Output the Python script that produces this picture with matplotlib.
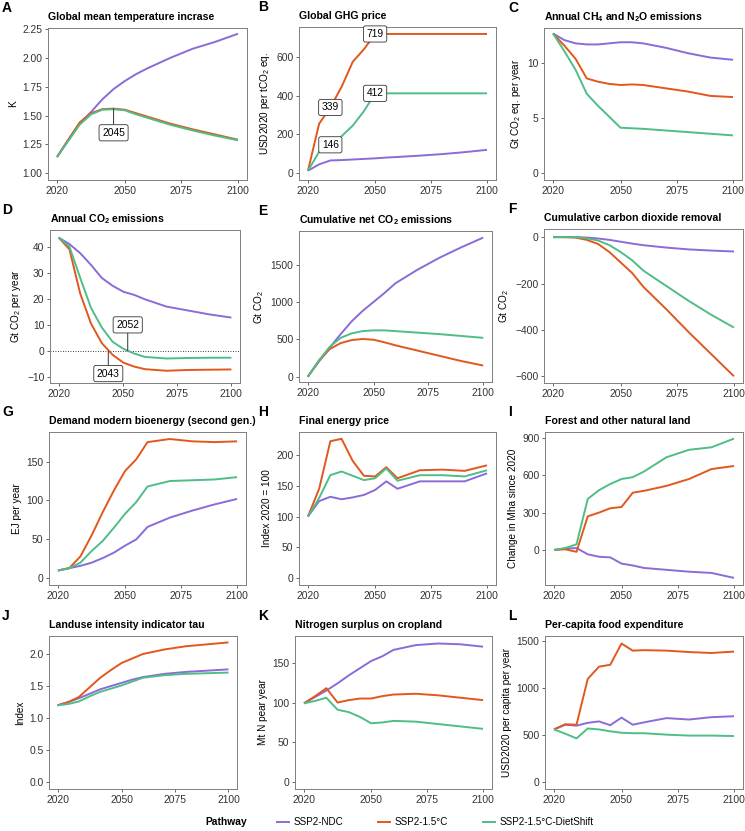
import numpy as np
import matplotlib
matplotlib.use("Agg")
import matplotlib.pyplot as plt
from matplotlib.lines import Line2D

plt.rcParams["font.family"] = ["Liberation Sans", "DejaVu Sans"]
plt.rcParams["axes.unicode_minus"] = True

years = [2020, 2025, 2030, 2035, 2040, 2045, 2050, 2055, 2060, 2070, 2080, 2090, 2100]
pathways = ["SSP2-NDC", "SSP2-1.5°C", "SSP2-1.5°C-DietShift"]
colors = {"SSP2-NDC": "#8A6BD8", "SSP2-1.5°C": "#E2571E", "SSP2-1.5°C-DietShift": "#4FBD86"}

# A: global mean temperature (K)
temp_ndc = [1.14, 1.29, 1.43, 1.53, 1.64, 1.73, 1.80, 1.86, 1.91, 2.00, 2.08, 2.14, 2.21]
temp_15 = [1.14, 1.29, 1.44, 1.52, 1.555, 1.56, 1.55, 1.52, 1.49, 1.43, 1.38, 1.335, 1.29]
temp_diet = [1.14, 1.28, 1.42, 1.51, 1.55, 1.555, 1.545, 1.51, 1.48, 1.42, 1.37, 1.325, 1.285]
# B: GHG price (USD2020 per tCO2 eq.)
price_ndc = [12, 45, 65, 67, 70, 73, 76, 80, 83, 90, 98, 108, 120]
price_15 = [12, 255, 339, 445, 575, 640, 719, 719, 719, 719, 719, 719, 719]
price_diet = [12, 110, 146, 190, 245, 320, 412, 412, 412, 412, 412, 412, 412]
# C: CH4 + N2O emissions (Gt CO2 eq. per year)
nonco2_ndc = [12.7, 12.1, 11.8, 11.7, 11.7, 11.8, 11.9, 11.9, 11.8, 11.4, 10.9, 10.5, 10.3]
nonco2_15 = [12.7, 11.6, 10.4, 8.6, 8.3, 8.1, 8.0, 8.05, 8.0, 7.7, 7.4, 7.0, 6.9]
nonco2_diet = [12.7, 11.1, 9.4, 7.2, 6.1, 5.1, 4.1, 4.05, 4.0, 3.85, 3.7, 3.55, 3.4]
# D: annual CO2 emissions (Gt CO2 per year)
co2_ndc = [43.5, 41, 37.5, 33, 28, 25, 22.7, 21.5, 19.8, 17, 15.5, 14, 12.8]
co2_15 = [43.5, 39, 22, 10.5, 3, -1.5, -4.5, -6, -7, -7.6, -7.3, -7.2, -7.1]
co2_diet = [43.5, 40, 28, 16.5, 9, 3.5, 0.8, -1, -2.3, -2.9, -2.7, -2.6, -2.6]
# E: cumulative net CO2 emissions (Gt CO2)
cum_ndc = [0, 200, 390, 570, 740, 880, 1000, 1120, 1250, 1430, 1590, 1730, 1860]
cum_15 = [0, 210, 370, 450, 490, 505, 495, 460, 420, 350, 280, 210, 150]
cum_diet = [0, 215, 400, 520, 580, 610, 620, 620, 610, 590, 570, 545, 520]
# F: cumulative carbon dioxide removal (Gt CO2)
cdr_ndc = [0, 0, 0, -2, -6, -12, -20, -28, -35, -45, -53, -58, -62]
cdr_15 = [0, 0, -2, -12, -30, -65, -110, -155, -215, -310, -410, -505, -600]
cdr_diet = [0, 0, 0, -5, -15, -35, -65, -100, -145, -210, -275, -335, -390]
# G: modern bioenergy demand (EJ per year)
bio_ndc = [10, 13, 16, 20, 26, 33, 42, 50, 66, 78, 87, 95, 102]
bio_15 = [10, 13, 28, 55, 85, 113, 138, 153, 175, 179, 176, 175, 176]
bio_diet = [10, 13, 20, 35, 48, 65, 83, 98, 118, 125, 126, 127, 130]
# H: final energy price (index 2020 = 100)
fep_ndc = [100, 125, 132, 128, 131, 135, 143, 157, 145, 157, 157, 157, 170]
fep_15 = [100, 145, 222, 226, 190, 166, 165, 180, 162, 175, 176, 174, 183]
fep_diet = [100, 130, 167, 173, 166, 159, 162, 178, 158, 167, 167, 165, 175]
# I: forest and other natural land (change in Mha since 2020)
land_ndc = [0, 10, 15, -35, -55, -60, -110, -125, -145, -160, -175, -185, -225]
land_15 = [0, 5, -15, 270, 300, 335, 345, 460, 475, 515, 570, 650, 675]
land_diet = [0, 15, 45, 410, 480, 530, 570, 585, 630, 745, 805, 825, 895]
# J: landuse intensity indicator tau
tau_ndc = [1.2, 1.25, 1.31, 1.38, 1.45, 1.50, 1.55, 1.60, 1.64, 1.69, 1.72, 1.74, 1.76]
tau_15 = [1.2, 1.25, 1.33, 1.48, 1.63, 1.75, 1.86, 1.93, 2.00, 2.07, 2.12, 2.15, 2.18]
tau_diet = [1.2, 1.22, 1.26, 1.34, 1.41, 1.46, 1.51, 1.57, 1.63, 1.67, 1.69, 1.70, 1.71]
# K: nitrogen surplus on cropland (Mt N per year)
nsur_ndc = [99, 107, 115, 124, 134, 143, 152, 158, 166, 172, 174, 173, 170]
nsur_15 = [99, 108, 118, 100, 103, 105, 105, 108, 110, 111, 109, 106, 103]
nsur_diet = [99, 102, 106, 91, 88, 82, 74, 75, 77, 76, 73, 70, 67]
# L: per-capita food expenditure (USD2020 per capita per year)
food_ndc = [560, 610, 600, 630, 645, 605, 685, 610, 635, 680, 665, 690, 700]
food_15 = [560, 615, 610, 1095, 1225, 1245, 1470, 1395, 1400, 1395, 1380, 1370, 1385]
food_diet = [560, 515, 465, 570, 560, 540, 525, 520, 520, 505, 495, 495, 490]

sub2 = r"$\mathregular{_2}$"
sub4 = r"$\mathregular{_4}$"

panels = [
    ("A", "Global mean temperature incrase", "K", (temp_ndc, temp_15, temp_diet),
     (0.94, 2.26), [1.0, 1.25, 1.5, 1.75, 2.0, 2.25], "{:.2f}", (48, 28, 247, 180)),
    ("B", "Global GHG price", "USD2020 per tCO" + sub2 + " eq.", (price_ndc, price_15, price_diet),
     (-36, 755), [0, 200, 400, 600], "{:.0f}", (299, 27, 496, 180)),
    ("C", "Annual CH" + sub4 + " and N" + sub2 + "O emissions", "Gt CO" + sub2 + " eq. per year",
     (nonco2_ndc, nonco2_15, nonco2_diet), (-0.67, 13.2), [0, 5, 10], "{:.0f}", (544, 28, 742, 180)),
    ("D", "Annual CO" + sub2 + " emissions", "Gt CO" + sub2 + " per year", (co2_ndc, co2_15, co2_diet),
     (-12.3, 46.4), [-10, 0, 10, 20, 30, 40], "{:.0f}", (50, 230, 240, 383)),
    ("E", "Cumulative net CO" + sub2 + " emissions", "Gt CO" + sub2, (cum_ndc, cum_15, cum_diet),
     (-70, 1948), [0, 500, 1000, 1500], "{:.0f}", (299, 231, 492, 382)),
    ("F", "Cumulative carbon dioxide removal", "Gt CO" + sub2, (cdr_ndc, cdr_15, cdr_diet),
     (-629, 35), [-600, -400, -200, 0], "{:.0f}", (544, 229, 743, 383)),
    ("G", "Demand modern bioenergy (second gen.)", "EJ per year", (bio_ndc, bio_15, bio_diet),
     (-8.6, 188), [0, 50, 100, 150], "{:.0f}", (49, 432, 246, 585)),
    ("H", "Final energy price", "Index 2020 = 100", (fep_ndc, fep_15, fep_diet),
     (-11, 237), [0, 50, 100, 150, 200], "{:.0f}", (299, 432, 496, 585)),
    ("I", "Forest and other natural land", "Change in Mha since 2020", (land_ndc, land_15, land_diet),
     (-282, 948), [0, 300, 600, 900], "{:.0f}", (545, 432, 743, 585)),
    ("J", "Landuse intensity indicator tau", "Index", (tau_ndc, tau_15, tau_diet),
     (-0.104, 2.28), [0.0, 0.5, 1.0, 1.5, 2.0], "{:.1f}", (49, 636, 237, 789)),
    ("K", "Nitrogen surplus on cropland", "Mt N pear year", (nsur_ndc, nsur_15, nsur_diet),
     (-8.4, 183.4), [0, 50, 100, 150], "{:.0f}", (295, 636, 492, 789)),
    ("L", "Per-capita food expenditure", "USD2020 per capita per year", (food_ndc, food_15, food_diet),
     (-71, 1550), [0, 500, 1000, 1500], "{:.0f}", (545, 636, 743, 789)),
]

W, H = 745, 831
fig = plt.figure(figsize=(W / 100, H / 100), dpi=100)
axes = {}
for letter, title, ylab, series, ylim, yticks, fmt, (x0, y0, x1, y1) in panels:
    ax = fig.add_axes([x0 / W, 1 - y1 / H, (x1 - x0) / W, (y1 - y0) / H])
    for name, vals in zip(pathways, series):
        ax.plot(years, vals, color=colors[name], lw=1.4, label=name, solid_capstyle="butt")
    ax.set_xlim(2016, 2104)
    ax.set_ylim(*ylim)
    ax.set_xticks([2020, 2050, 2075, 2100])
    ax.set_yticks(yticks)
    ax.set_yticklabels([fmt.format(v).replace("-", "\u2212") for v in yticks])
    ax.tick_params(labelsize=7.4, color="#4d4d4d", labelcolor="#333333", length=2.5, width=0.6, pad=1.5)
    for sp in ax.spines.values():
        sp.set_color("#7f7f7f")
        sp.set_linewidth(0.7)
    ax.set_ylabel(ylab, fontsize=7.2, color="black", labelpad=3)
    ax.set_title(title, loc="left", fontsize=7.6, fontweight="bold", pad=5.5)
    letter_x = 2 if x0 < 100 else (258 if x0 < 400 else 508)
    fig.text(letter_x / W, 1 - (y0 - 27) / H, letter, fontsize=10, fontweight="bold", va="top", ha="left")
    axes[letter] = ax

box = dict(boxstyle="round,pad=0.3,rounding_size=0.2", fc="white", ec="#333333", lw=0.6)
lab_fs = 7.4

# A: peak year label
ax = axes["A"]
ax.annotate("2045", xy=(2045, temp_15[years.index(2045)]), xytext=(2045, 1.35),
            ha="center", va="center", fontsize=lab_fs, bbox=box,
            arrowprops=dict(arrowstyle="-", color="#333333", lw=0.7, shrinkA=0, shrinkB=0))

# B: price labels
ax = axes["B"]
for yr, vals in [(2030, price_diet), (2030, price_15), (2050, price_diet), (2050, price_15)]:
    v = vals[years.index(yr)]
    ax.text(yr, v, f"{v}", ha="center", va="center", fontsize=lab_fs, bbox=box)

# D: net-zero years
ax = axes["D"]
ax.axhline(0, color="black", lw=0.6, ls=(0, (1, 2)), zorder=0)
ax.annotate("2052", xy=(2052, 0), xytext=(2052, 10), ha="center", va="center", fontsize=lab_fs, bbox=box,
            arrowprops=dict(arrowstyle="-", color="#333333", lw=0.7, shrinkA=0, shrinkB=0))
ax.annotate("2043", xy=(2043, 0), xytext=(2043, -8.7), ha="center", va="center", fontsize=lab_fs, bbox=box,
            arrowprops=dict(arrowstyle="-", color="#333333", lw=0.7, shrinkA=0, shrinkB=0))

handles = [Line2D([], [], color=colors[p], lw=1.4) for p in pathways]
fig.text(205 / W, 1 - 822 / H, "Pathway", fontsize=7.4, fontweight="bold", va="center", ha="left")
fig.legend(handles, pathways, loc="center left", bbox_to_anchor=(277 / W, 1 - 822 / H), ncol=3,
           frameon=False, fontsize=7.1, handlelength=1.2, handletextpad=0.5, columnspacing=3.5,
           borderpad=0, borderaxespad=0)

fig.savefig("out.png", dpi=100, facecolor="white")
